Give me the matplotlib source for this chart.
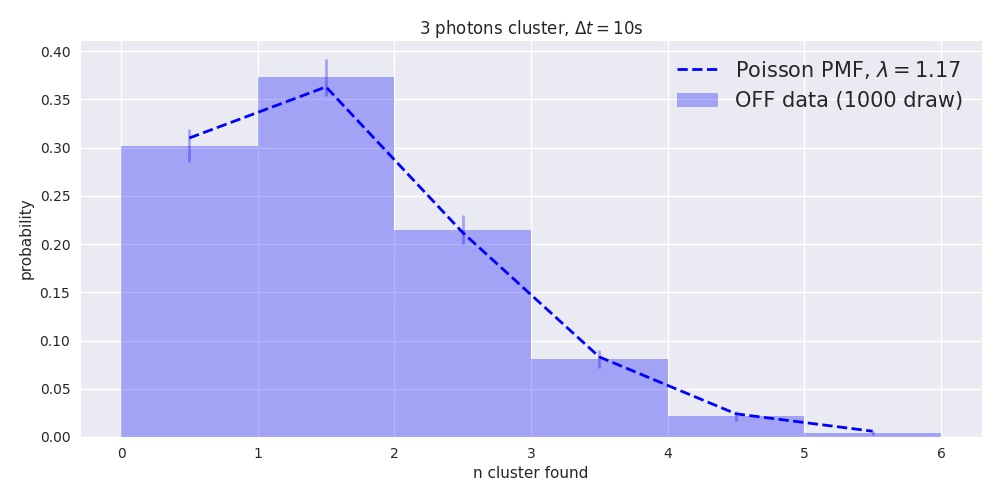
import matplotlib
matplotlib.use("Agg")
import matplotlib.pyplot as plt
import numpy as np
import seaborn as sns

# OFF data histogram (normalised), bin edges 0..6
bin_edges = [0, 1, 2, 3, 4, 5, 6]
bin_centers = [0.5, 1.5, 2.5, 3.5, 4.5, 5.5]
off_prob = [0.302, 0.373, 0.215, 0.081, 0.022, 0.004]
off_err = [0.017, 0.019, 0.015, 0.009, 0.005, 0.002]

# Poisson PMF values, lambda = 1.17
pmf_vals = [0.310, 0.363, 0.212, 0.083, 0.024, 0.006]

sns.set_style('darkgrid')
plt.rcParams['axes.labelsize'] = 11
plt.rcParams['axes.titlesize'] = 12
plt.rcParams['xtick.labelsize'] = 10
plt.rcParams['ytick.labelsize'] = 10
plt.rcParams['grid.linewidth'] = 1.0

fig, ax = plt.subplots(figsize=(10, 5), dpi=100)

ax.bar(bin_edges[:-1], off_prob, width=1, align='edge', color='blue', alpha=0.3,
       linewidth=0, label='OFF data (1000 draw)')
ax.errorbar(bin_centers, off_prob, yerr=off_err, fmt='none', ecolor='blue',
            alpha=0.3, elinewidth=2)
ax.plot(bin_centers, pmf_vals, '--', color='blue', lw=2,
        label=r'Poisson PMF, $\lambda = 1.17$')

ax.set_xlabel('n cluster found')
ax.set_ylabel('probability')
ax.set_title(r'3 photons cluster, $\Delta t = 10$s', pad=4)
ax.legend(fontsize=15, loc='upper right', frameon=False)

fig.subplots_adjust(left=0.08, right=0.982, bottom=0.126, top=0.92)
plt.savefig('out.png', dpi=100)
